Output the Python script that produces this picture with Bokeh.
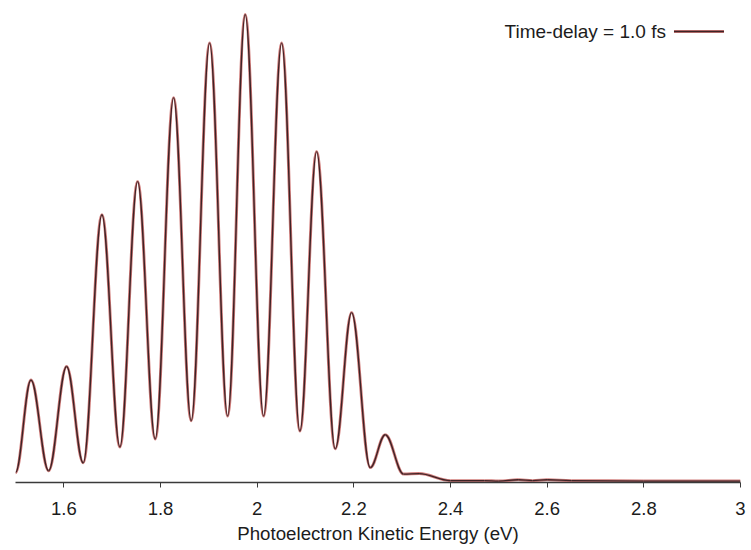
from bokeh.plotting import figure
from bokeh.models import Range1d, FixedTicker, ColumnDataSource, Label, Arrow
from bokeh.embed import file_html
from bokeh.resources import INLINE

# Photoelectron spectrum: local extrema (energy in eV, intensity normalised)
energy = [1.500, 1.532, 1.5685, 1.6057, 1.6401, 1.6788, 1.7160, 1.7526, 1.7891, 1.8271,
          1.8635, 1.9016, 1.9389, 1.9753, 2.0133, 2.0506, 2.0884, 2.1230, 2.1615, 2.1954,
          2.2339, 2.2650, 2.303, 2.335, 2.400, 2.470, 2.500, 2.540, 2.570, 2.600,
          2.650, 2.800, 3.000]
intensity = [0.021, 0.219, 0.025, 0.248, 0.042, 0.572, 0.076, 0.643, 0.093, 0.822,
             0.132, 0.939, 0.142, 1.000, 0.142, 0.939, 0.110, 0.707, 0.072, 0.363,
             0.032, 0.102, 0.018, 0.019, 0.004, 0.004, 0.003, 0.006, 0.004, 0.006,
             0.004, 0.003, 0.003]

tick_values = [1.6, 1.8, 2.0, 2.2, 2.4, 2.6, 2.8, 3.0]
tick_labels = ["1.6", "1.8", "2", "2.2", "2.4", "2.6", "2.8", "3"]
legend_label = "Time-delay = 1.0 fs"
x_label = "Photoelectron Kinetic Energy (eV)"

FONT = "Liberation Sans"
TXT = "#1c1c1c"

# smooth rendering: cubic Bezier segments with horizontal tangents at each extremum
K = 0.364
x0 = energy[:-1]
x1 = energy[1:]
y0 = intensity[:-1]
y1 = intensity[1:]
cx0 = [a + K * (b - a) for a, b in zip(x0, x1)]
cx1 = [b - K * (b - a) for a, b in zip(x0, x1)]
src = ColumnDataSource(dict(x0=x0, y0=y0, x1=x1, y1=y1, cx0=cx0, cy0=y0, cx1=cx1, cy1=y1))

p = figure(width=751, height=550, x_range=Range1d(1.5, 3.0), y_range=Range1d(0, 1.0085),
           output_backend="svg", toolbar_location=None, y_axis_location=None,
           min_border_left=15, min_border_right=11, min_border_top=10, min_border_bottom=68)
p.outline_line_color = None
p.xgrid.visible = False
p.ygrid.visible = False
p.background_fill_color = "white"
p.border_fill_color = "white"

p.bezier(x0="x0", y0="y0", x1="x1", y1="y1", cx0="cx0", cy0="cy0", cx1="cx1", cy1="cy1",
         source=src, line_color="#c0504d", line_width=3.0, line_alpha=0.75)
p.bezier(x0="x0", y0="y0", x1="x1", y1="y1", cx0="cx0", cy0="cy0", cx1="cx1", cy1="cy1",
         source=src, line_color="#3d2326", line_width=1.4)

ax = p.xaxis[0]
ax.ticker = FixedTicker(ticks=tick_values)
ax.major_label_overrides = dict(zip(tick_values, tick_labels))
ax.axis_label = x_label
ax.axis_label_text_font = FONT
ax.axis_label_text_font_style = "normal"
ax.axis_label_text_font_size = "18.7px"
ax.axis_label_text_color = TXT
ax.axis_label_standoff = 5
ax.major_label_text_font = FONT
ax.major_label_text_font_size = "18.5px"
ax.major_label_text_color = TXT
ax.major_label_standoff = 14
ax.axis_line_color = "#3a3a3a"
ax.axis_line_width = 1.5
ax.major_tick_line_color = "#3a3a3a"
ax.major_tick_in = 0
ax.major_tick_out = 5
ax.minor_tick_line_color = None

# legend (label to the left of the line sample)
leg_y = 0.9636
p.add_layout(Label(x=2.8457, y=leg_y, text=legend_label, text_align="right", text_baseline="middle",
                   text_font=FONT, text_font_size="19px", text_color=TXT))
p.add_layout(Arrow(end=None, x_start=2.8624, y_start=leg_y, x_end=2.9658, y_end=leg_y,
                   line_color="#c0504d", line_width=3.0, line_alpha=0.75))
p.add_layout(Arrow(end=None, x_start=2.8624, y_start=leg_y, x_end=2.9658, y_end=leg_y,
                   line_color="#3d2326", line_width=1.4))

open("out.html", "w").write(file_html(p, INLINE))
